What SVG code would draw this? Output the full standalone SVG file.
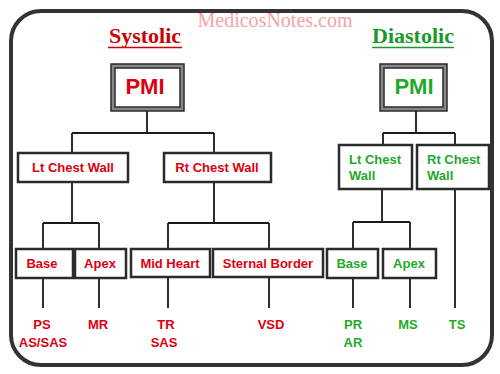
<svg xmlns="http://www.w3.org/2000/svg" width="500" height="374" viewBox="0 0 500 374">
<style>
.frame{fill:none;stroke:#333;stroke-width:4}
.box{fill:#fff;stroke:#2b2b2b;stroke-width:2.5}
.pmio{fill:#888;stroke:#2b2b2b;stroke-width:1.5}
.pmii{fill:#fff;stroke:#2b2b2b;stroke-width:1.5}
.ln{fill:none;stroke:#1a1a1a;stroke-width:1.8}
.t{font-family:"Liberation Sans",Arial,sans-serif;font-weight:bold;font-size:13px}
.c{text-anchor:middle}
.r{fill:#dd0011}
.g{fill:#1faa2a}
.h{font-family:"Liberation Serif","Times New Roman",serif;font-weight:bold;font-size:22px;text-anchor:middle}
.pmi{font-family:"Liberation Sans",Arial,sans-serif;font-weight:bold;font-size:22px;text-anchor:middle}
</style>
<rect width="500" height="374" fill="#fff"/>
<rect class="frame" x="11" y="11" width="481" height="354" rx="30" ry="30"/>
<text x="275" y="27" font-family="'Liberation Serif','Times New Roman',serif" font-size="20" fill="#f5a3a3" text-anchor="middle">MedicosNotes.com</text>
<g id="heading-systolic">
<text class="h" x="145" y="43" fill="#cc0000">Systolic</text>
<line x1="108" y1="47.5" x2="182" y2="47.5" stroke="#cc0000" stroke-width="1.6"/>
</g>
<g id="heading-diastolic">
<text class="h" x="413" y="43" fill="#1a9a2a">Diastolic</text>
<line x1="372" y1="47.5" x2="454" y2="47.5" stroke="#1a9a2a" stroke-width="1.6"/>
</g>
<g id="connectors">
<path class="ln" d="M147 111V133M72 133H214M72 133V153M214 133V153"/>
<path class="ln" d="M72 182V223M43 223H99M43 223V249M99 223V249"/>
<path class="ln" d="M214 182V223M168 223H269M168 223V249M269 223V249"/>
<path class="ln" d="M43 278V308M99 278V308M168 277V308M269 277V308"/>
<path class="ln" d="M416 111V133M383 133H455M383 133V145M455 133V145"/>
<path class="ln" d="M382 189V222M353 222H410M353 222V249M410 222V249"/>
<path class="ln" d="M353 278V308M410 278V308M455 189V308"/>
</g>
<g id="pmi-systolic">
<rect class="pmio" x="111" y="64" width="73" height="47"/>
<rect class="pmii" x="115" y="68" width="65" height="39"/>
<text class="pmi r" x="145" y="94">PMI</text>
</g>
<g id="pmi-diastolic">
<rect class="pmio" x="380" y="64" width="67" height="47"/>
<rect class="pmii" x="384" y="68" width="59" height="39"/>
<text class="pmi g" x="414" y="94">PMI</text>
</g>
<g id="s-lt-chest-wall">
<rect class="box" x="18" y="153" width="110" height="29"/>
<text class="t c r" x="73" y="172">Lt Chest Wall</text>
</g>
<g id="s-rt-chest-wall">
<rect class="box" x="164" y="153" width="107" height="29"/>
<text class="t c r" x="217" y="172">Rt Chest Wall</text>
</g>
<g id="s-base">
<rect class="box" x="16" y="249" width="57" height="29"/>
<text class="t c r" x="42" y="268">Base</text>
</g>
<g id="s-apex">
<rect class="box" x="75" y="249" width="51" height="29"/>
<text class="t c r" x="100" y="268">Apex</text>
</g>
<g id="s-mid-heart">
<rect class="box" x="131" y="249" width="79" height="28"/>
<text class="t c r" x="170" y="268">Mid Heart</text>
</g>
<g id="s-sternal-border">
<rect class="box" x="213" y="249" width="110" height="28"/>
<text class="t c r" x="268" y="268">Sternal Border</text>
</g>
<g id="d-lt-chest-wall">
<rect class="box" x="339" y="145" width="73" height="44"/>
<text class="t g" x="349" y="164">Lt Chest</text>
<text class="t g" x="349" y="180">Wall</text>
</g>
<g id="d-rt-chest-wall">
<rect class="box" x="417" y="145" width="72" height="44"/>
<text class="t g" x="427" y="164">Rt Chest</text>
<text class="t g" x="427" y="180">Wall</text>
</g>
<g id="d-base">
<rect class="box" x="327" y="249" width="51" height="29"/>
<text class="t c g" x="352" y="268">Base</text>
</g>
<g id="d-apex">
<rect class="box" x="383" y="249" width="53" height="29"/>
<text class="t c g" x="409" y="268">Apex</text>
</g>
<g id="leaves">
<text class="t c r" x="42" y="329">PS</text>
<text class="t c r" x="43" y="347">AS/SAS</text>
<text class="t c r" x="98" y="329">MR</text>
<text class="t c r" x="166" y="329">TR</text>
<text class="t c r" x="164" y="347">SAS</text>
<text class="t c r" x="271" y="329">VSD</text>
<text class="t c g" x="353" y="329">PR</text>
<text class="t c g" x="353" y="347">AR</text>
<text class="t c g" x="408" y="329">MS</text>
<text class="t c g" x="457" y="329">TS</text>
</g>
</svg>
